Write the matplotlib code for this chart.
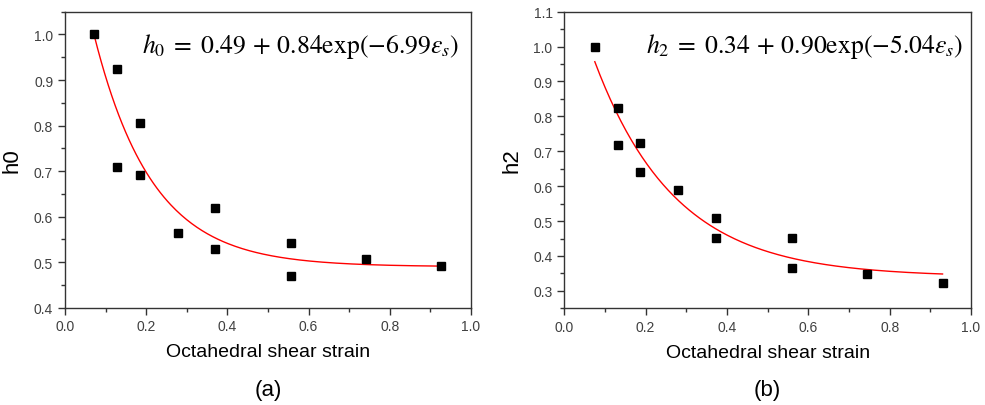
import numpy as np
import matplotlib
matplotlib.use("Agg")
import matplotlib.pyplot as plt
from matplotlib.ticker import MultipleLocator

plt.rcParams['font.family'] = ['Liberation Sans', 'DejaVu Sans']
plt.rcParams['mathtext.fontset'] = 'stix'

# data
strain_a = [0.072, 0.129, 0.129, 0.184, 0.184, 0.278, 0.370, 0.370, 0.556, 0.556, 0.741, 0.926]
h0 = [1.000, 0.925, 0.710, 0.806, 0.691, 0.563, 0.618, 0.528, 0.541, 0.469, 0.507, 0.491]

strain_b = [0.075, 0.131, 0.131, 0.187, 0.187, 0.280, 0.373, 0.373, 0.559, 0.559, 0.745, 0.930]
h2 = [1.000, 0.823, 0.718, 0.723, 0.641, 0.590, 0.509, 0.452, 0.451, 0.366, 0.347, 0.323]

# fitted curves: h = a + b*exp(c*eps)
fit_a = (0.49, 0.84, -6.99)
fit_b = (0.34, 0.90, -5.04)

fig = plt.figure(figsize=(9.85, 4.06), dpi=100)
ax1 = fig.add_axes([0.066, 0.2397, 0.412, 0.729])
ax2 = fig.add_axes([0.5729, 0.2382, 0.4129, 0.7305])

panels = [
    (ax1, strain_a, h0, fit_a, 'h0', (0.4, 1.05), r'$h_0\;=\;0.49\,+\,0.84\mathrm{exp}(-6.99\varepsilon_s)$', 0.971, '(a)'),
    (ax2, strain_b, h2, fit_b, 'h2', (0.25, 1.1), r'$h_2\;=\;0.34\,+\,0.90\mathrm{exp}(-5.04\varepsilon_s)$', 0.981, '(b)'),
]

for ax, x, y, fit, ylab, ylim, eq, eqx, cap in panels:
    xs = np.linspace(min(x), max(x), 200)
    ax.plot(xs, fit[0] + fit[1] * np.exp(fit[2] * xs), color='red', lw=1)
    ax.plot(x, y, 's', color='black', ms=5.5, zorder=3)
    ax.set_xlim(0, 1.0)
    ax.set_ylim(*ylim)
    ax.xaxis.set_major_locator(MultipleLocator(0.2))
    ax.xaxis.set_minor_locator(MultipleLocator(0.1))
    ax.yaxis.set_major_locator(MultipleLocator(0.1))
    ax.yaxis.set_minor_locator(MultipleLocator(0.05))
    ax.xaxis.set_major_formatter(plt.FormatStrFormatter('%.1f'))
    ax.yaxis.set_major_formatter(plt.FormatStrFormatter('%.1f'))
    ax.tick_params(which='major', direction='out', length=5, width=1, labelsize=10,
                   labelcolor='#404040', color='#333333')
    ax.tick_params(which='minor', direction='out', length=3, width=1, color='#333333')
    for sp in ax.spines.values():
        sp.set_color('#333333')
        sp.set_linewidth(1)
    ax.set_xlabel('Octahedral shear strain', fontsize=14, labelpad=7)
    ax.set_ylabel(ylab, fontsize=16, labelpad=8)
    ax.text(eqx, 0.885, eq, transform=ax.transAxes, ha='right', va='center', fontsize=18.5)
    ax.text(0.5, -0.24, cap, transform=ax.transAxes, ha='center', va='top', fontsize=16)

plt.savefig('out.png', dpi=100)
